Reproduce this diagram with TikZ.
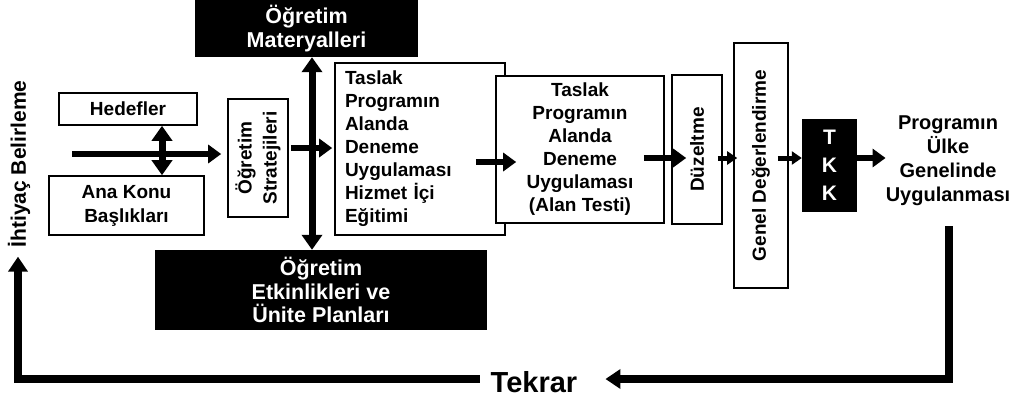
\documentclass[tikz,border=0pt]{standalone}
\usepackage{fontspec}
\setmainfont{Liberation Sans}
\usetikzlibrary{arrows.meta,calc}
\begin{document}
\begin{tikzpicture}[x=1pt,y=-1pt,
  txt/.style={font=\bfseries\fontsize{19}{23}\selectfont, align=center},
  wbox/.style={draw, line width=1.6pt, fill=white, inner sep=0pt, txt},
  bbox/.style={fill=black, text=white, inner sep=0pt, font=\bfseries\fontsize{21.5}{23.5}\selectfont, align=center},
  arr/.style={line width=6.5pt, -{Triangle[length=13pt,width=18pt]}},
  dbl/.style={line width=7pt, {Triangle[length=15pt,width=20pt]}-{Triangle[length=15pt,width=20pt]}},
  sarr/.style={line width=5pt, -{Triangle[length=10pt,width=13pt]}},
  looparr/.style={line width=7.5pt, -{Triangle[length=15pt,width=19pt]}},
]
\useasboundingbox (0,0) rectangle (1016,405);

% black boxes
\node[bbox, minimum width=223pt, minimum height=57pt] (mat) at (306.5,28.5) {Öğretim\\Materyalleri};
\node[bbox, minimum width=332pt, minimum height=80pt] (etk) at (321,290) {Öğretim\\Etkinlikleri ve\\Ünite Planları};

% left boxes
\node[wbox, minimum width=138pt, minimum height=32pt] (hed) at (128,109) {Hedefler};
\node[wbox, minimum width=155pt, minimum height=59pt, font=\bfseries\fontsize{19}{24}\selectfont] (ana) at (126.5,205.5) {Ana Konu\\Başlıkları};

% strategies box
\node[wbox, minimum width=60pt, minimum height=118pt] (str) at (258,158) {};
\node[txt, rotate=90, font=\bfseries\fontsize{19}{25}\selectfont] (strt) at (str.center) {Öğretim\\Stratejileri};

% draft boxes
\node[wbox, text width=150pt, inner xsep=10pt, minimum height=172pt, align=left] (tas1) at (420,149)
  {Taslak\\Programın\\Alanda\\Deneme\\Uygulaması\\Hizmet İçi\\Eğitimi};
\node[wbox, minimum width=168pt, minimum height=147pt] (tas2) at (580,149.5)
  {Taslak\\Programın\\Alanda\\Deneme\\Uygulaması\\(Alan Testi)};

% correction and evaluation
\node[wbox, minimum width=50pt, minimum height=149pt] (duz) at (697,149.5) {};
\node[txt, rotate=90] (duzt) at (duz.center) {Düzeltme};
\node[wbox, minimum width=54pt, minimum height=245pt] (gen) at (761,165.5) {};
\node[txt, rotate=90] (gent) at (gen.center) {Genel Değerlendirme};

% TKK
\node[fill=black, text=white, inner sep=0pt, minimum width=55pt, minimum height=93pt,
      font=\bfseries\fontsize{21}{28}\selectfont, align=center] (tkk) at (829.5,165.5) {T\\K\\K};

% final text
\node[txt, inner sep=0pt, font=\bfseries\fontsize{20}{24}\selectfont] (prog) at (948,161)
  {Programın\\Ülke\\Genelinde\\Uygulanması};

% needs text
\node[txt, rotate=90, inner sep=0pt, font=\bfseries\fontsize{21}{25}\selectfont] (iht) at (19,164) {İhtiyaç Belirleme};

% repeat label
\node[inner xsep=11pt, inner ysep=0pt, font=\bfseries\fontsize{29}{32}\selectfont] (tek) at (534,382.5) {Tekrar};

% connectors
\coordinate (a1s) at (72,154);
\draw[arr, shorten >=6pt] (a1s) -- (a1s -| str.west);
\draw[dbl] ([xshift=34pt]hed.south) -- ([xshift=35.5pt]ana.north);
\draw[arr] ([yshift=10pt,xshift=2pt]str.east) -- ([yshift=1pt,xshift=-2pt]tas1.west);
\draw[dbl] ([xshift=5.5pt]mat.south) -- ([xshift=-9pt]etk.north);
\draw[arr] ([xshift=-30pt,yshift=-13pt]tas1.east) -- ([xshift=21pt,yshift=-12.5pt]tas2.west);
\draw[arr] ([xshift=-21pt,yshift=-8.5pt]tas2.east) -- ([xshift=15pt,yshift=-8.5pt]duz.west);
\draw[sarr] ([xshift=-5pt,yshift=-8.5pt]duz.east) -- ([xshift=4pt,yshift=7.5pt]gen.west);
\draw[sarr] ([xshift=-11pt,yshift=7.5pt]gen.east) -- ([yshift=7.5pt]tkk.west);
\draw[arr] ([yshift=7.5pt]tkk.east) -- ([yshift=3pt]prog.west);

% repeat loop
\coordinate (r1) at (949,226);
\draw[looparr, line join=miter] (r1) |- ([xshift=17pt,yshift=3.5pt]tek.east);
\draw[looparr, line join=miter, shorten >=9pt] ([yshift=3.5pt]tek.west) -| ([xshift=-1pt]iht.west);
\end{tikzpicture}
\end{document}
